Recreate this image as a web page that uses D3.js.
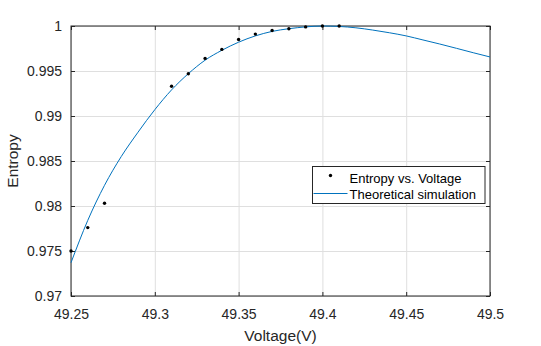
<!DOCTYPE html>
<html>
<head>
<meta charset="utf-8">
<script src="https://cdn.jsdelivr.net/npm/d3@7"></script>
<style>
  html, body { margin: 0; padding: 0; background: #fff; }
  svg { display: block; font-family: "Liberation Sans", Arial, sans-serif; }
</style>
</head>
<body>
<div id="chart"></div>
<script>
// Datos medidos (puntos)
const voltMeasured = [49.25, 49.26, 49.27, 49.31, 49.32, 49.33, 49.34, 49.35, 49.36, 49.37, 49.38, 49.39, 49.40, 49.41];
const entropyMeasured = [0.9750, 0.9776, 0.9803, 0.9933, 0.9947, 0.9964, 0.9974, 0.9985, 0.9991, 0.9995, 0.9997, 0.9999, 1.0000, 1.0000];

// Simulación teórica (curva)
const voltSim = [49.25, 49.26, 49.27, 49.28, 49.29, 49.30, 49.31, 49.32, 49.33, 49.34, 49.35, 49.36, 49.37, 49.38, 49.39, 49.40, 49.41, 49.42, 49.43, 49.44, 49.45, 49.46, 49.47, 49.48, 49.49, 49.50];
const entropySim = [0.9737, 0.9784, 0.9823, 0.9855, 0.9882, 0.9907, 0.9929, 0.9947, 0.9962, 0.9973, 0.9982, 0.9989, 0.9994, 0.9997, 0.9999, 1.0000, 0.99995, 0.9998, 0.99955, 0.99925, 0.9989, 0.99845, 0.9980, 0.99752, 0.99703, 0.99656];

const xTicks = [49.25, 49.3, 49.35, 49.4, 49.45, 49.5];
const yTicks = [0.97, 0.975, 0.98, 0.985, 0.99, 0.995, 1];
const legendLabels = ['Entropy vs. Voltage', 'Theoretical simulation'];

const W = 541, H = 346;
const margin = {top: 26, right: 51, bottom: 50, left: 71};
const width = W - margin.left - margin.right,
      height = H - margin.top - margin.bottom;
const ink = '#262626', blue = '#0072BD';

const svg = d3.select('#chart').append('svg')
    .attr('width', W).attr('height', H);

const chart = svg.append('g')
    .attr('transform', 'translate(' + margin.left + ',' + margin.top + ')');

const x = d3.scaleLinear().domain([49.25, 49.5]).range([0, width]);
const y = d3.scaleLinear().domain([0.97, 1]).range([height, 0]);

//Rejilla
chart.append('g')
    .attr('transform', 'translate(0,' + height + ')')
    .call(d3.axisBottom(x).tickValues(xTicks).tickSize(-height).tickFormat(''))
    .call(g => g.select('.domain').remove())
    .call(g => g.selectAll('.tick line').attr('stroke', '#dfdfdf'));

chart.append('g')
    .call(d3.axisLeft(y).tickValues(yTicks).tickSize(-width).tickFormat(''))
    .call(g => g.select('.domain').remove())
    .call(g => g.selectAll('.tick line').attr('stroke', '#dfdfdf'));

//Ejes
const fmt = d => String(+d.toFixed(3));

chart.append('g')
    .attr('transform', 'translate(0,' + height + ')')
    .call(d3.axisBottom(x).tickValues(xTicks).tickSizeInner(-4).tickSizeOuter(0).tickPadding(13).tickFormat(fmt))
    .call(g => g.select('.domain').remove())
    .call(g => g.selectAll('.tick line').attr('stroke', ink))
    .call(g => g.selectAll('.tick text').attr('fill', ink).style('font-size', '14px').attr('font-family', null));

chart.append('g')
    .call(d3.axisTop(x).tickValues(xTicks).tickSizeInner(-4).tickSizeOuter(0).tickFormat(''))
    .call(g => g.select('.domain').remove())
    .call(g => g.selectAll('.tick line').attr('stroke', ink));

chart.append('g')
    .call(d3.axisLeft(y).tickValues(yTicks).tickSizeInner(-4).tickSizeOuter(0).tickPadding(9).tickFormat(fmt))
    .call(g => g.select('.domain').remove())
    .call(g => g.selectAll('.tick line').attr('stroke', ink))
    .call(g => g.selectAll('.tick text').attr('fill', ink).style('font-size', '14px').attr('font-family', null));

chart.append('g')
    .attr('transform', 'translate(' + width + ',0)')
    .call(d3.axisRight(y).tickValues(yTicks).tickSizeInner(-4).tickSizeOuter(0).tickFormat(''))
    .call(g => g.select('.domain').remove())
    .call(g => g.selectAll('.tick line').attr('stroke', ink));

chart.append('rect')
    .attr('width', width).attr('height', height)
    .attr('fill', 'none').attr('stroke', ink).attr('stroke-width', 1);

//Curva teórica
const simData = voltSim.map((v, i) => ({v: v, e: entropySim[i]}));
chart.append('path')
    .datum(simData)
    .attr('fill', 'none')
    .attr('stroke', blue)
    .attr('stroke-width', 1)
    .attr('d', d3.line().x(d => x(d.v)).y(d => y(d.e)).curve(d3.curveMonotoneX));

//Puntos medidos
chart.selectAll('.dot')
    .data(voltMeasured.map((v, i) => ({v: v, e: entropyMeasured[i]})))
    .enter()
    .append('circle')
    .attr('class', 'dot')
    .attr('cx', d => x(d.v))
    .attr('cy', d => y(d.e))
    .attr('r', 1.7)
    .attr('fill', '#000');

//Títulos de ejes
svg.append('text')
    .attr('x', margin.left + width / 2)
    .attr('y', 341)
    .attr('text-anchor', 'middle')
    .attr('fill', ink)
    .style('font-size', '15.5px')
    .text('Voltage(V)');

svg.append('text')
    .attr('transform', 'translate(18,' + (margin.top + height / 2) + ') rotate(-90)')
    .attr('text-anchor', 'middle')
    .attr('fill', ink)
    .style('font-size', '15.5px')
    .text('Entropy');

//Leyenda
const legend = svg.append('g').attr('transform', 'translate(312.5,166.5)');
legend.append('rect')
    .attr('width', 172.5).attr('height', 37)
    .attr('fill', '#fff').attr('stroke', ink).attr('stroke-width', 1);
legend.append('circle')
    .attr('cx', 18).attr('cy', 9).attr('r', 1.7).attr('fill', '#000');
legend.append('line')
    .attr('x1', 1).attr('x2', 35).attr('y1', 27).attr('y2', 27)
    .attr('stroke', blue).attr('stroke-width', 1);
legend.selectAll('.leg-text')
    .data(legendLabels)
    .enter()
    .append('text')
    .attr('class', 'leg-text')
    .attr('x', 37)
    .attr('y', (d, i) => 16 + i * 16)
    .attr('fill', '#000')
    .style('font-size', '13px')
    .text(d => d);
</script>
</body>
</html>
